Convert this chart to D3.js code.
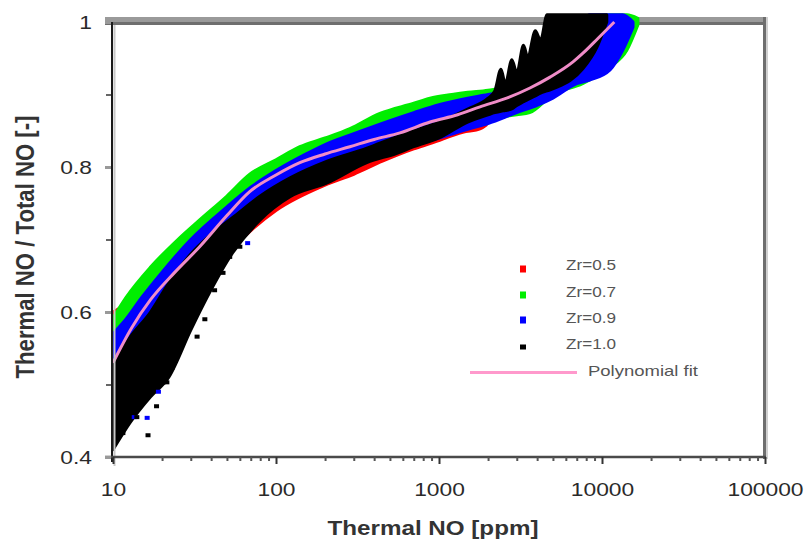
<!DOCTYPE html>
<html><head><meta charset="utf-8">
<script src="https://cdn.jsdelivr.net/npm/d3@7"></script>
<style>
body{margin:0;background:#fff;}
svg{display:block;}
text{font-family:"Liberation Sans",Arial,sans-serif;}
</style></head>
<body>
<svg id="chart" width="808" height="543"></svg>
<script>
// ---------- data ----------
const xTicks = [10, 100, 1000, 10000, 100000];
const xTickLabels = ["10", "100", "1000", "10000", "100000"];
const yTicks = [0.4, 0.6, 0.8, 1.0];
const yTickLabels = ["0.4", "0.6", "0.8", "1"];
const yMinorTicks = [0.5, 0.7, 0.9];

const seriesNames = ["Zr=0.5", "Zr=0.7", "Zr=0.9", "Zr=1.0"];
const seriesColors = ["#ff0000", "#00ee00", "#0000ff", "#000000"];

// Zr=0.5 scatter band (x, lower y, upper y)
const zr05X  = [10,   12,    15,   20,   30,   50,   100,  200,  300,  450,  700,  900,  1400, 1800, 1950];
const zr05Lo = [0.48, 0.50,  0.53, 0.56, 0.62, 0.68, 0.74, 0.775,0.79, 0.808,0.825,0.833,0.848,0.853,0.858];
const zr05Hi = [0.60, 0.612, 0.64, 0.67, 0.71, 0.75, 0.79, 0.81, 0.82, 0.83, 0.842,0.85, 0.86, 0.864,0.862];

// Zr=0.7 scatter band
const zr07X  = [10,   12,   17,    25,   34,    50,   69,   100,  140,  200,  284,  434,  700,  880,  1200, 1500, 2000, 3000, 3600, 5000, 7600, 11200, 14200, 16600];
const zr07Lo = [0.50, 0.54, 0.60,  0.65, 0.68,  0.72, 0.745,0.77, 0.785,0.80, 0.81, 0.825,0.84, 0.848,0.857,0.862,0.867,0.872,0.875,0.90, 0.915,0.938, 0.961, 0.996];
const zr07Hi = [0.592,0.62, 0.662, 0.70, 0.727, 0.76, 0.79, 0.81, 0.828,0.84, 0.853,0.874,0.888,0.895,0.90, 0.903,0.906,0.915,0.93, 0.96, 1.005,1.01,  1.01,  1.005];

// Zr=0.9 scatter band
const zr09X  = [10,   12,   15,   20,    30,   50,    70,   100,  150,  200,  300,  500,  700,  1000, 1500, 2000, 3000, 4000, 5000, 7000, 8400, 11200, 13400, 15500];
const zr09Lo = [0.45, 0.47, 0.50, 0.56,  0.63, 0.69,  0.72, 0.75, 0.775,0.79, 0.805,0.82, 0.83, 0.84, 0.852,0.86, 0.875,0.885,0.895,0.915,0.92, 0.934, 0.961, 0.993];
const zr09Hi = [0.57, 0.59, 0.62, 0.655, 0.70, 0.745, 0.772,0.795,0.817,0.831,0.846,0.864,0.875,0.886,0.895,0.90, 0.91, 0.93, 0.95, 0.985,1.01, 1.01,  1.01,  1.0];

// Zr=1.0 scatter band
const zr10X  = [10,   12.7,  17,    22,   30,   39,   54,   80,   122,  206,  361,  552,  700,  1000, 1500, 2000, 2200, 2400, 2550, 2800, 3000, 3300, 3500, 3900, 4200, 4600, 5300, 7600, 9300, 10700];
const zr10Lo = [0.41, 0.447, 0.483, 0.51, 0.575,0.626,0.681,0.727,0.759,0.778,0.806,0.819,0.828,0.84, 0.862,0.872,0.875,0.877,0.878,0.88, 0.885,0.89, 0.893,0.898,0.902,0.905,0.91, 0.935,0.965,1.0];
const zr10Hi = [0.53, 0.565, 0.60,  0.64, 0.68, 0.705,0.73, 0.76, 0.785,0.808,0.826,0.842,0.85, 0.862,0.88, 0.895,0.905,0.935,0.915,0.948,0.93, 0.968,0.952,0.988,0.975,1.01, 1.01, 1.01, 1.01, 1.01];

// isolated Zr=1.0 points below the main cloud
const zr10OutX = [11.5, 14,   16.4, 18.5, 20.3, 21.4, 22.4, 23,   25,   27.6, 31,   32.8, 36.6, 42,   47.3, 52,   60,   76,   95];
const zr10OutY = [0.433,0.455,0.43, 0.47, 0.503,0.503,0.548,0.523,0.55, 0.572,0.596,0.566,0.59, 0.63, 0.654,0.676,0.69, 0.731,0.745];
// isolated Zr=0.9 points
const zr09OutX = [13.5, 16.2, 19,   67];
const zr09OutY = [0.455,0.454,0.49, 0.695];

// polynomial fit
const fitX = [10,   13,   17,   24,   34,   50,   69,   100,  140,  200,  284,  400,  576,  881,  1300, 1786, 2600, 3614, 4800, 6637, 7640, 9500, 11900];
const fitY = [0.53, 0.578,0.617,0.655,0.69, 0.733,0.766,0.789,0.806,0.818,0.828,0.838,0.847,0.862,0.872,0.883,0.895,0.909,0.924,0.945,0.957,0.978,1.0];

// ---------- drawing ----------
const svg = d3.select("#chart");
const x = d3.scaleLog().domain([10, 100000]).range([113, 765]);
const y = d3.scaleLinear().domain([0.4, 1.0]).range([457, 22]);

function stretch(sel, f) {
  sel.each(function () {
    const w = this.getComputedTextLength();
    this.setAttribute("textLength", (w * f).toFixed(1));
    this.setAttribute("lengthAdjust", "spacingAndGlyphs");
  });
}

// frame: top and right grey borders
svg.append("rect").attr("x", 105).attr("y", 17).attr("width", 663).attr("height", 5).attr("fill", "#9a9a9a");
svg.append("rect").attr("x", 105).attr("y", 22).attr("width", 663).attr("height", 3).attr("fill", "#6e6e6e");
svg.append("rect").attr("x", 763).attr("y", 17).attr("width", 3).attr("height", 442).attr("fill", "#6e6e6e");
svg.append("rect").attr("x", 766).attr("y", 17).attr("width", 2).attr("height", 442).attr("fill", "#d0d0d0");

// data
const defs = svg.append("defs");
defs.append("clipPath").attr("id", "clip").append("rect")
  .attr("x", 108).attr("y", 12).attr("width", 655).attr("height", 447);
const g = svg.append("g").attr("clip-path", "url(#clip)");

const area = d3.area()
  .x(d => x(d[0])).y0(d => y(d[1])).y1(d => y(d[2]))
  .curve(d3.curveMonotoneX);

const bands = [
  [zr05X, zr05Lo, zr05Hi],
  [zr07X, zr07Lo, zr07Hi],
  [zr09X, zr09Lo, zr09Hi],
  [zr10X, zr10Lo, zr10Hi]
];
bands.forEach((b, i) => {
  const pts = b[0].map((v, j) => [v, b[1][j], b[2][j]]);
  g.append("path").datum(pts)
    .attr("d", area)
    .attr("fill", seriesColors[i])
    .attr("stroke", seriesColors[i])
    .attr("stroke-width", 3)
    .attr("stroke-linejoin", "round");
});

const outs = [[zr09OutX, zr09OutY, seriesColors[2]], [zr10OutX, zr10OutY, seriesColors[3]]];
outs.forEach(o => {
  g.selectAll(null).data(o[0].map((v, j) => [v, o[1][j]])).enter().append("rect")
    .attr("x", d => x(d[0]) - 2.5).attr("y", d => y(d[1]) - 2)
    .attr("width", 5).attr("height", 4).attr("fill", o[2]);
});

const line = d3.line().x(d => x(d[0])).y(d => y(d[1])).curve(d3.curveMonotoneX);
g.append("path").datum(fitX.map((v, j) => [v, fitY[j]]))
  .attr("d", line).attr("fill", "none").attr("stroke", "#f08cc8").attr("stroke-width", 3);

// axes
svg.append("line").attr("x1", 112).attr("x2", 112).attr("y1", 22).attr("y2", 462)
  .attr("stroke", "#1a1a1a").attr("stroke-width", 2);
svg.append("line").attr("x1", 114.5).attr("x2", 114.5).attr("y1", 25).attr("y2", 466)
  .attr("stroke", "#c8c8c8").attr("stroke-width", 2);
svg.append("line").attr("x1", 105).attr("x2", 766).attr("y1", 457).attr("y2", 457)
  .attr("stroke", "#4a4a4a").attr("stroke-width", 2.5);

const xAxisMinor = d3.axisBottom(x)
  .tickValues(d3.range(1, 5).flatMap(e => d3.range(2, 10).map(m => m * Math.pow(10, e))))
  .tickSize(4).tickFormat("");
const xm = svg.append("g").attr("transform", "translate(0,457)").call(xAxisMinor);
xm.select(".domain").remove();
xm.selectAll("line").attr("stroke", "#555").attr("stroke-width", 2);

const xAxis = d3.axisBottom(x).tickValues(xTicks).tickSize(7).tickPadding(24)
  .tickFormat((d, i) => xTickLabels[i]);
const xa = svg.append("g").attr("transform", "translate(0,457)").call(xAxis);
xa.select(".domain").remove();
xa.selectAll("line").attr("stroke", "#333").attr("stroke-width", 2);
xa.selectAll("text").attr("font-size", 19).attr("fill", "#2a2a2a")
  .attr("font-family", "'Liberation Sans', Arial, sans-serif").attr("dy", "0");
xa.selectAll("text").attr("y", 39);
stretch(xa.selectAll("text"), 1.2);

const yAxisMinor = d3.axisLeft(y).tickValues(yMinorTicks).tickSize(5).tickFormat("");
const ym = svg.append("g").attr("transform", "translate(111,0)").call(yAxisMinor);
ym.select(".domain").remove();
ym.selectAll("line").attr("stroke", "#666").attr("stroke-width", 2);

const yAxis = d3.axisLeft(y).tickValues(yTicks).tickSize(6).tickPadding(12)
  .tickFormat((d, i) => yTickLabels[i]);
const ya = svg.append("g").attr("transform", "translate(111,0)").call(yAxis);
ya.select(".domain").remove();
ya.selectAll("line").attr("stroke", "#999").attr("stroke-width", 3);
ya.selectAll("text").attr("font-size", 19).attr("fill", "#2a2a2a")
  .attr("font-family", "'Liberation Sans', Arial, sans-serif").attr("x", -19);
stretch(ya.selectAll("text"), 1.2);

// axis titles
svg.append("text").attr("x", 433).attr("y", 535).attr("text-anchor", "middle")
  .attr("font-size", 21).attr("font-weight", "bold").attr("fill", "#333")
  .attr("textLength", 211).attr("lengthAdjust", "spacingAndGlyphs")
  .text("Thermal NO [ppm]");

svg.append("text")
  .attr("transform", "translate(34,247) scale(1.25,1) rotate(-90)")
  .attr("text-anchor", "middle")
  .attr("font-size", 21).attr("font-weight", "bold").attr("fill", "#333")
  .attr("textLength", 263).attr("lengthAdjust", "spacingAndGlyphs")
  .text("Thermal NO / Total NO [-]");

// legend
const legY = [269, 295, 320, 347];
const legTextY = [265, 292, 318, 344];
seriesNames.forEach((name, i) => {
  const h = i === 3 ? 5 : 7;
  svg.append("rect").attr("x", 520).attr("y", legY[i] - h / 2).attr("width", 6).attr("height", h)
    .attr("fill", seriesColors[i]);
  svg.append("text").attr("x", 566).attr("y", legTextY[i]).attr("dy", "0.35em")
    .attr("font-size", 14).attr("fill", "#555")
    .attr("textLength", 50).attr("lengthAdjust", "spacingAndGlyphs")
    .text(name);
});
svg.append("line").attr("x1", 470).attr("x2", 577).attr("y1", 372.5).attr("y2", 372.5)
  .attr("stroke", "#ff99cc").attr("stroke-width", 3);
svg.append("text").attr("x", 588).attr("y", 371).attr("dy", "0.35em")
  .attr("font-size", 15).attr("fill", "#555")
  .attr("textLength", 110).attr("lengthAdjust", "spacingAndGlyphs")
  .text("Polynomial fit");
</script>
</body></html>
